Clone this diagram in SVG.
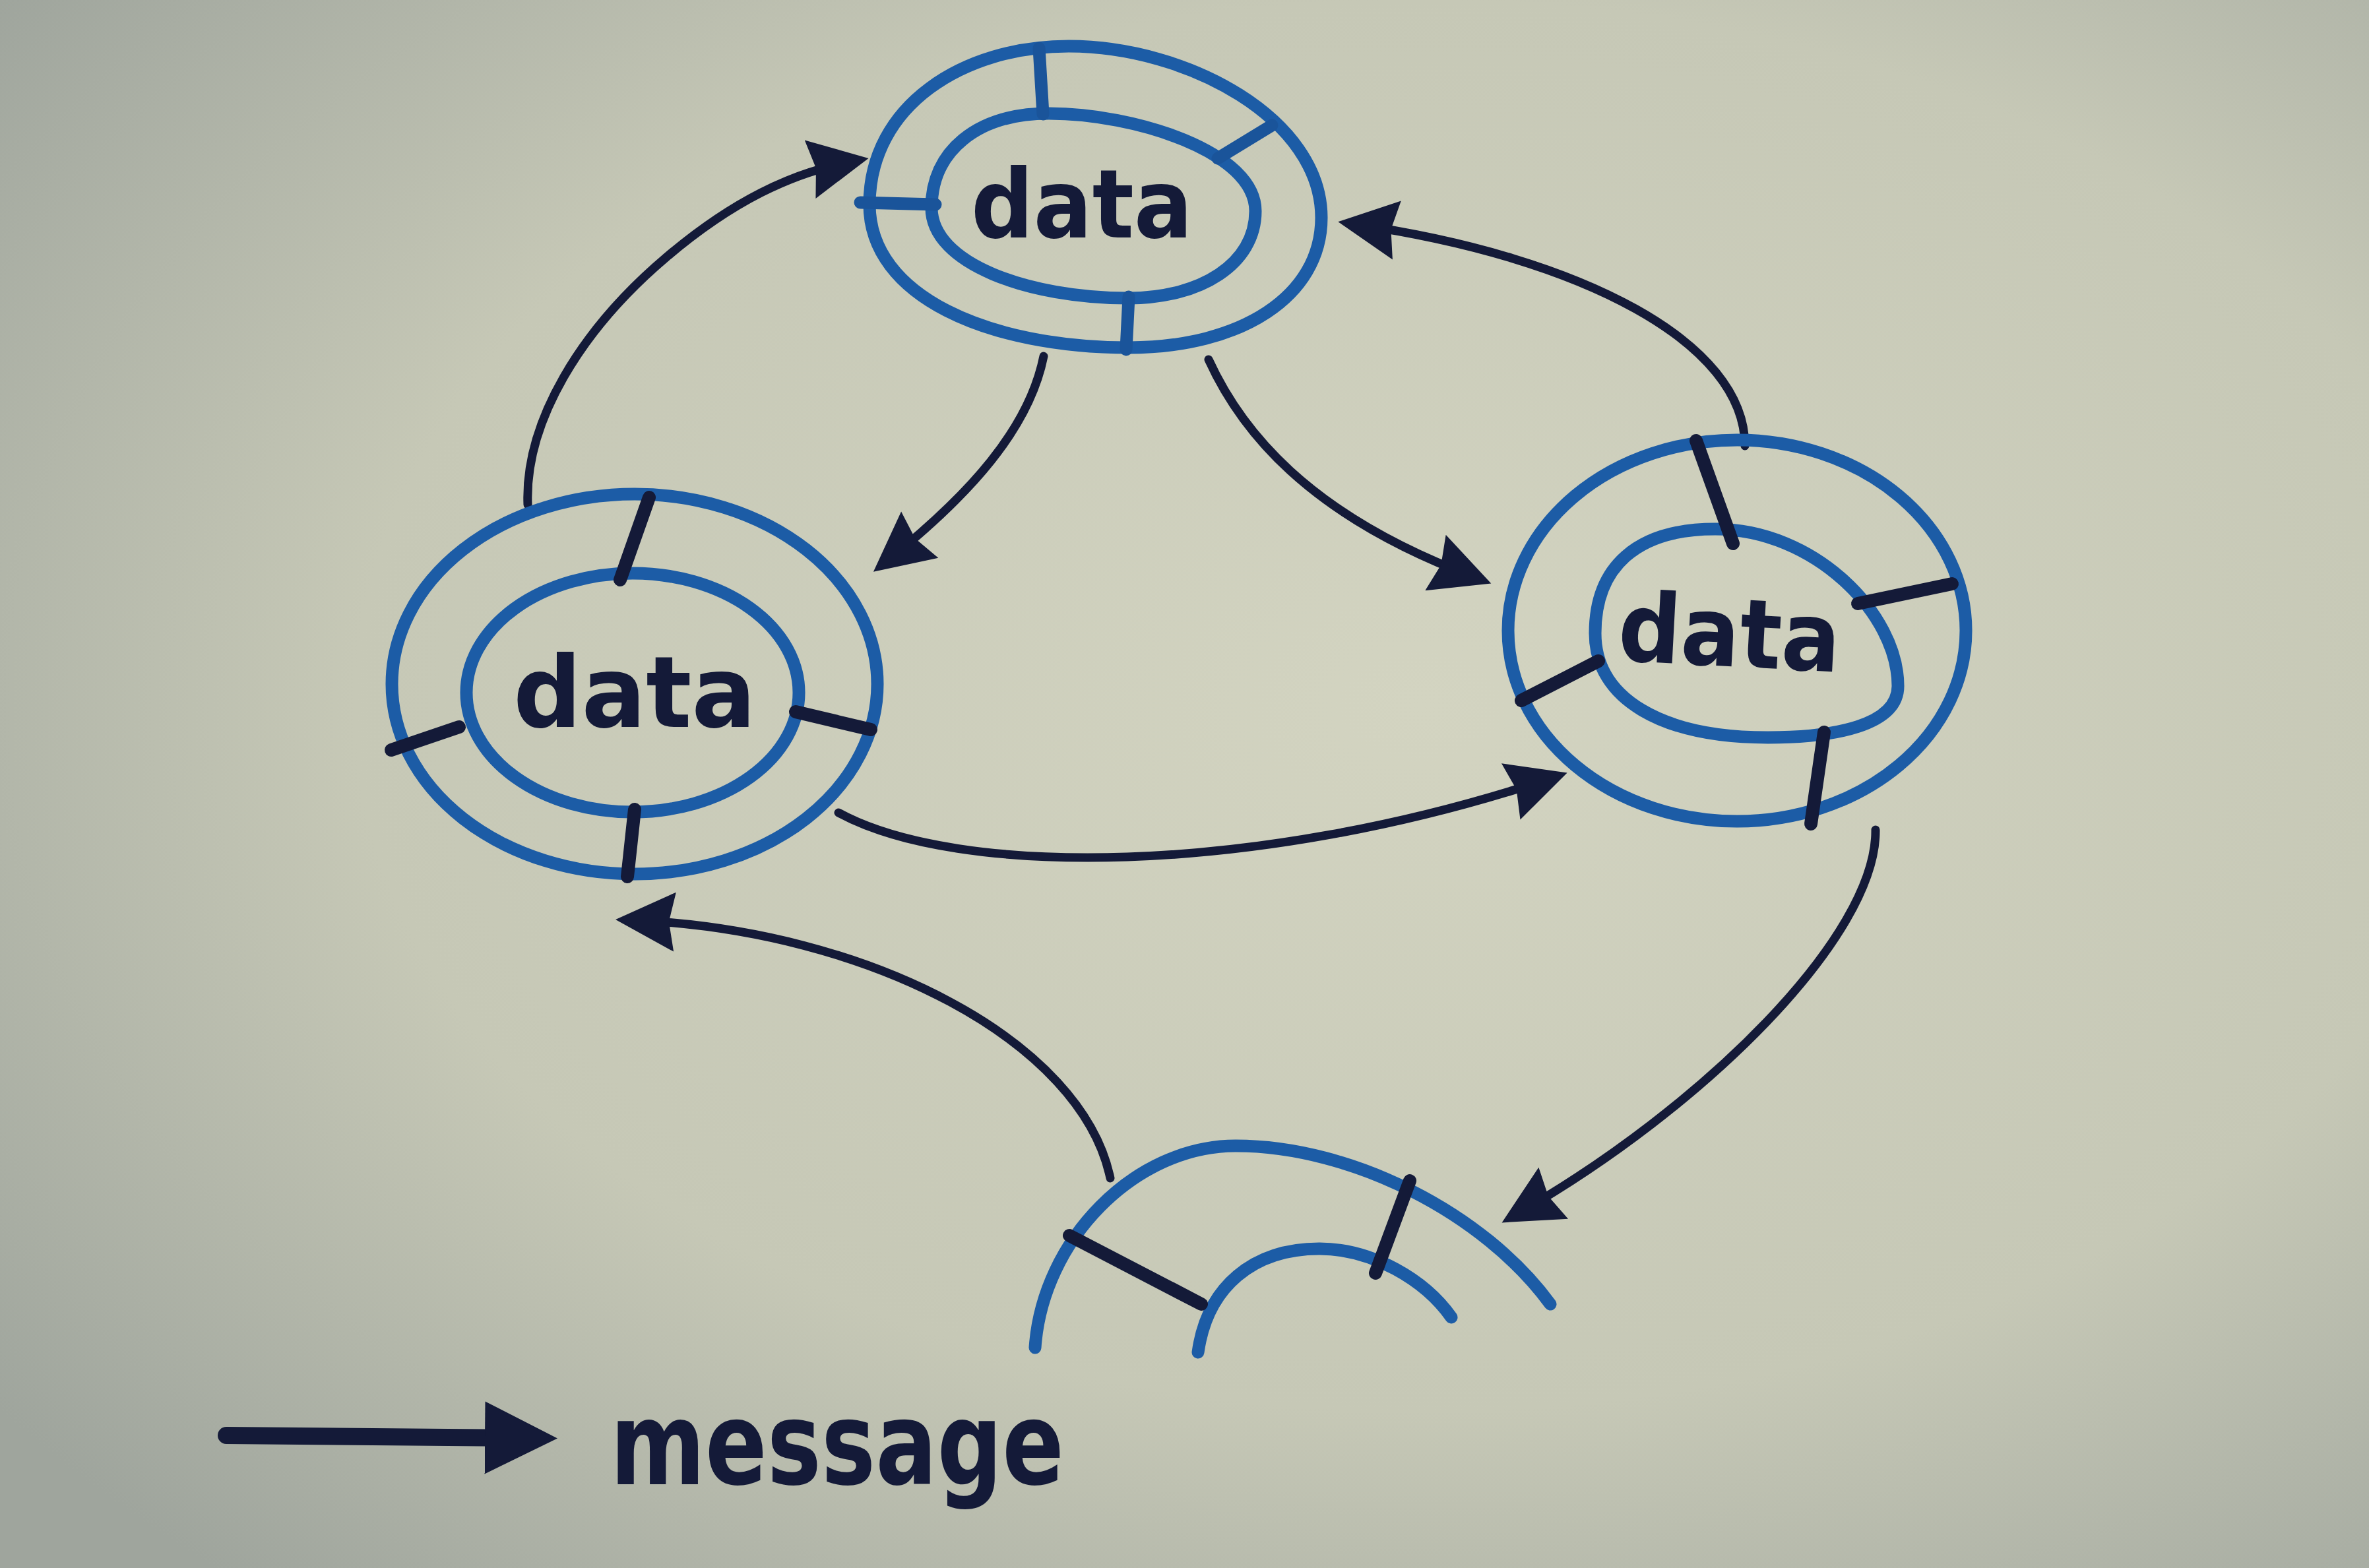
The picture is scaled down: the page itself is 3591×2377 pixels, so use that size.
<svg xmlns="http://www.w3.org/2000/svg" width="3591" height="2377" viewBox="0 0 3591 2377">
<style>
.blue{fill:none;stroke:#1c5ca6;stroke-width:19;stroke-linecap:round;stroke-linejoin:round}
.bdiv{fill:none;stroke:#1a549a;stroke-width:19;stroke-linecap:round}
.kdiv{fill:none;stroke:#141a38;stroke-width:20;stroke-linecap:round}
.conn{fill:none;stroke:#141a38;stroke-width:13;stroke-linecap:round}
.lbl{font-family:"DejaVu Sans",sans-serif;font-weight:bold;fill:#141a38;text-anchor:middle}
</style>
<defs>
<radialGradient id="bg" cx="0.6" cy="0.45" r="0.75">
<stop offset="0" stop-color="#d3d4c1"/>
<stop offset="0.6" stop-color="#c6c8b6"/>
<stop offset="1" stop-color="#9fa59d"/>
</radialGradient>
<marker id="ah" viewBox="0 0 10 10" refX="7" refY="5" markerWidth="95" markerHeight="90" markerUnits="userSpaceOnUse" orient="auto">
<path d="M0,0 L10,5 L0,10 L1,5 z" fill="#141a38"/>
</marker>
<marker id="ahL" viewBox="0 0 10 10" refX="5" refY="5" markerWidth="110" markerHeight="135" markerUnits="userSpaceOnUse" orient="auto">
<path d="M0,0 L10,5 L0,10 z" fill="#141a38"/>
</marker>
</defs>
<rect width="3591" height="2377" fill="url(#bg)"/>

<g id="connectors">
<path class="conn" d="M800,765 C795,640 880,500 1010,390 C1110,305 1200,262 1290,245" marker-end="url(#ah)"/>
<path class="conn" d="M1582,540 C1560,650 1470,750 1345,850" marker-end="url(#ah)"/>
<path class="conn" d="M1832,545 C1880,650 1980,780 2235,875" marker-end="url(#ah)"/>
<path class="conn" d="M2645,676 C2645,520 2400,390 2055,340" marker-end="url(#ah)"/>
<path class="conn" d="M1271,1232 C1450,1330 1900,1330 2350,1180" marker-end="url(#ah)"/>
<path class="conn" d="M2843,1258 C2845,1420 2580,1680 2300,1840" marker-end="url(#ah)"/>
<path class="conn" d="M1683,1786 C1640,1580 1320,1410 960,1395" marker-end="url(#ah)"/>
</g>

<g id="node-top">
<path class="blue" d="M1620,70 C1800,70 2003,180 2003,330 C2003,450 1880,527 1711,527 C1500,527 1318,450 1318,310 C1318,160 1460,70 1620,70 Z"/>
<path class="blue" d="M1590,172 C1720,172 1903,230 1903,320 C1903,400 1820,452 1711,452 C1560,452 1412,400 1412,315 C1412,230 1480,172 1590,172 Z"/>
<line class="bdiv" x1="1575" y1="73" x2="1581" y2="173"/>
<line class="bdiv" x1="1304" y1="307" x2="1418" y2="310"/>
<line class="bdiv" x1="1928" y1="190" x2="1846" y2="240"/>
<line class="bdiv" x1="1711" y1="450" x2="1707" y2="530"/>
<text class="lbl" x="1640" y="360" font-size="145" textLength="336" lengthAdjust="spacingAndGlyphs">data</text>
</g>

<g id="node-left">
<ellipse class="blue" cx="962" cy="1037" rx="368" ry="288"/>
<ellipse class="blue" cx="959" cy="1050" rx="252" ry="181"/>
<line class="kdiv" x1="984" y1="754" x2="940" y2="879"/>
<line class="kdiv" x1="593" y1="1137" x2="696" y2="1102"/>
<line class="kdiv" x1="1206" y1="1079" x2="1320" y2="1106"/>
<line class="kdiv" x1="962" y1="1227" x2="951" y2="1329"/>
<text class="lbl" x="962" y="1102" font-size="150" textLength="368" lengthAdjust="spacingAndGlyphs">data</text>
</g>

<g id="node-right">
<ellipse class="blue" cx="2633" cy="956" rx="347" ry="289"/>
<path class="blue" d="M2600,802 C2750,802 2877,930 2877,1040 C2877,1100 2780,1118 2680,1118 C2520,1118 2418,1060 2418,960 C2418,860 2480,802 2600,802 Z"/>
<line class="kdiv" x1="2571" y1="668" x2="2627" y2="824"/>
<line class="kdiv" x1="2816" y1="915" x2="2959" y2="885"/>
<line class="kdiv" x1="2423" y1="1002" x2="2306" y2="1062"/>
<line class="kdiv" x1="2765" y1="1110" x2="2745" y2="1249"/>
<text class="lbl" x="2622" y="1010" font-size="145" textLength="337" lengthAdjust="spacingAndGlyphs" transform="rotate(3 2622 960)">data</text>
</g>

<g id="node-bottom">
<path class="blue" d="M1569,2043 C1580,1880 1720,1737 1873,1737 C2050,1737 2250,1840 2350,1977"/>
<path class="blue" d="M1816,2050 C1830,1950 1900,1893 2000,1893 C2080,1893 2160,1940 2200,1997"/>
<line class="kdiv" x1="1621" y1="1873" x2="1821" y2="1977"/>
<line class="kdiv" x1="2137" y1="1790" x2="2085" y2="1930"/>
</g>

<g id="legend">
<path d="M343,2176 L790,2180" fill="none" stroke="#141a38" stroke-width="26" stroke-linecap="round" marker-end="url(#ahL)"/>
<text class="lbl" x="925" y="2250" font-size="175" textLength="688" lengthAdjust="spacingAndGlyphs" style="text-anchor:start">message</text>
</g>
</svg>
